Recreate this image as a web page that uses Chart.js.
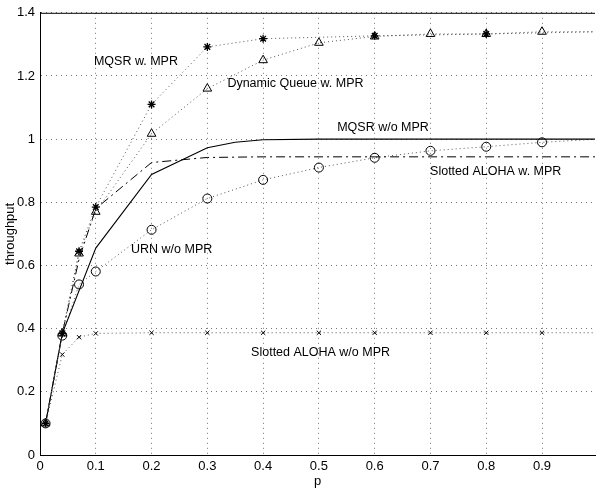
<!DOCTYPE html>
<html>
<head>
<meta charset="utf-8">
<script src="https://cdn.jsdelivr.net/npm/chart.js@4/dist/chart.umd.min.js"></script>
<style>
  html, body { margin: 0; padding: 0; background: #fff; }
</style>
</head>
<body>
<canvas id="chart" width="601" height="488"></canvas>
<script>
const xTicks = [0, 0.1, 0.2, 0.3, 0.4, 0.5, 0.6, 0.7, 0.8, 0.9];
const yTicks = [0, 0.2, 0.4, 0.6, 0.8, 1, 1.2, 1.4];

// MQSR w. MPR (asterisks)
const pMqsrMpr = [0.01, 0.04, 0.07, 0.1, 0.2, 0.3, 0.4, 0.6, 0.8, 1.0];
const mqsrMpr = [0.1, 0.385, 0.645, 0.785, 1.11, 1.292, 1.318, 1.327, 1.333, 1.34];

// Dynamic Queue w. MPR (triangles)
const pQueue = [0.01, 0.04, 0.07, 0.1, 0.2, 0.3, 0.4, 0.5, 0.6, 0.7, 0.8, 0.9, 1.0];
const queueMpr = [0.1, 0.385, 0.638, 0.77, 1.017, 1.16, 1.25, 1.305, 1.325, 1.333, 1.333, 1.34, 1.34];

// MQSR w/o MPR (solid)
const pMqsr = [0.01, 0.04, 0.1, 0.2, 0.3, 0.35, 0.4, 0.5, 0.6, 0.7, 0.8, 0.9, 1.0];
const mqsrNoMpr = [0.1, 0.385, 0.655, 0.888, 0.973, 0.99, 0.998, 1.0, 1.0, 1.0, 1.0, 1.0, 1.0];

// Slotted ALOHA w. MPR (dash-dot)
const pAlohaMpr = [0.01, 0.04, 0.07, 0.1, 0.2, 0.3, 0.4, 0.5, 0.6, 0.7, 0.8, 0.9, 1.0];
const alohaMpr = [0.1, 0.385, 0.62, 0.78, 0.926, 0.942, 0.944, 0.944, 0.944, 0.944, 0.944, 0.944, 0.944];

// URN w/o MPR (circles)
const pUrn = [0.01, 0.04, 0.07, 0.1, 0.2, 0.3, 0.4, 0.5, 0.6, 0.7, 0.8, 0.9, 1.0];
const urnNoMpr = [0.1, 0.378, 0.54, 0.581, 0.713, 0.812, 0.871, 0.91, 0.941, 0.963, 0.976, 0.99, 1.0];

// Slotted ALOHA w/o MPR (x marks)
const pAloha = [0.01, 0.04, 0.07, 0.1, 0.2, 0.3, 0.4, 0.5, 0.6, 0.7, 0.8, 0.9, 1.0];
const alohaNoMpr = [0.1, 0.318, 0.373, 0.385, 0.387, 0.387, 0.387, 0.387, 0.387, 0.387, 0.387, 0.387, 0.387];

// text notes inside the plot
const noteText = ["MQSR w. MPR", "Dynamic Queue w. MPR", "MQSR w/o MPR", "Slotted ALOHA w. MPR", "URN w/o MPR", "Slotted ALOHA w/o MPR"];
const noteP = [0.172, 0.458, 0.615, 0.817, 0.236, 0.503];
const noteY = [1.245, 1.175, 1.036, 0.897, 0.651, 0.325];

const FONT = "'Liberation Sans', Arial, Helvetica, sans-serif";

function pts(xs, ys) {
  return xs.map((x, i) => ({ x: x, y: ys[i] }));
}

function markerSize(r) {
  return (ctx) => (ctx.raw && ctx.raw.x > 0.95 ? 0 : r);
}

const notes = {
  id: "notes",
  afterDatasetsDraw(c) {
    const { ctx, chartArea, scales } = c;
    ctx.save();
    ctx.strokeStyle = "#000";
    ctx.lineWidth = 1;
    ctx.beginPath();
    ctx.moveTo(chartArea.left, chartArea.top + 0.5);
    ctx.lineTo(chartArea.right, chartArea.top + 0.5);
    ctx.stroke();
    ctx.font = "12.5px " + FONT;
    ctx.fillStyle = "#000";
    ctx.textAlign = "center";
    ctx.textBaseline = "middle";
    noteText.forEach((t, i) => {
      ctx.fillText(t, scales.x.getPixelForValue(noteP[i]), scales.y.getPixelForValue(noteY[i]));
    });
    ctx.restore();
  },
};

const dotted = [1, 3];

new Chart(document.getElementById("chart").getContext("2d"), {
  type: "scatter",
  plugins: [notes],
  options: {
    responsive: false,
    animation: false,
    layout: { padding: { top: 12, right: 1, left: 0, bottom: 0 } },
    plugins: { legend: { display: false }, tooltip: { enabled: false } },
    scales: {
      x: {
        type: "linear",
        min: 0,
        max: 0.995,
        afterBuildTicks: (s) => { s.ticks = xTicks.map((v) => ({ value: v })); },
        afterFit: (s) => { s.height = 33; },
        ticks: { color: "#000", font: { family: FONT, size: 13 }, padding: 4, callback: (v) => String(v) },
        grid: { color: "#777", lineWidth: 1, drawTicks: false },
        border: { display: true, color: "#000", width: 1, dash: [1, 4] },
        title: { display: true, text: "p", color: "#000", font: { family: FONT, size: 13 }, padding: { top: 0, bottom: -1 } },
      },
      y: {
        type: "linear",
        min: 0,
        max: 1.4,
        afterBuildTicks: (s) => { s.ticks = yTicks.map((v) => ({ value: v })); },
        afterFit: (s) => { s.width = 40; },
        ticks: { color: "#000", font: { family: FONT, size: 13 }, padding: 5, callback: (v) => String(v) },
        grid: { color: "#777", lineWidth: 1, drawTicks: false },
        border: { display: true, color: "#000", width: 1, dash: [1, 4] },
        title: { display: true, text: "throughput", color: "#000", font: { family: FONT, size: 13 }, padding: { top: 3, bottom: 0 } },
      },
    },
  },
  data: {
    datasets: [
      {
        label: "MQSR w. MPR",
        data: pts(pMqsrMpr, mqsrMpr),
        showLine: true,
        borderColor: "#555",
        borderWidth: 1,
        borderDash: dotted,
        pointStyle: "star",
        pointRadius: markerSize(4),
        pointBorderColor: "#000",
        pointBorderWidth: 1.3,
      },
      {
        label: "Dynamic Queue w. MPR",
        data: pts(pQueue, queueMpr),
        showLine: true,
        borderColor: "#555",
        borderWidth: 1,
        borderDash: dotted,
        pointStyle: "triangle",
        pointRadius: markerSize(5),
        pointBackgroundColor: "rgba(255,255,255,0)",
        pointBorderColor: "#000",
        pointBorderWidth: 1,
      },
      {
        label: "MQSR w/o MPR",
        data: pts(pMqsr, mqsrNoMpr),
        showLine: true,
        borderColor: "#000",
        borderWidth: 1.1,
        pointRadius: 0,
      },
      {
        label: "Slotted ALOHA w. MPR",
        data: pts(pAlohaMpr, alohaMpr),
        showLine: true,
        borderColor: "#000",
        borderWidth: 1,
        borderDash: [9, 4, 2, 4],
        pointRadius: 0,
      },
      {
        label: "URN w/o MPR",
        data: pts(pUrn, urnNoMpr),
        showLine: true,
        borderColor: "#555",
        borderWidth: 1,
        borderDash: dotted,
        pointStyle: "circle",
        pointRadius: markerSize(4.5),
        pointBackgroundColor: "rgba(255,255,255,0)",
        pointBorderColor: "#000",
        pointBorderWidth: 1,
      },
      {
        label: "Slotted ALOHA w/o MPR",
        data: pts(pAloha, alohaNoMpr),
        showLine: true,
        borderColor: "#555",
        borderWidth: 1,
        borderDash: dotted,
        pointStyle: "crossRot",
        pointRadius: markerSize(3),
        pointBorderColor: "#000",
        pointBorderWidth: 1,
      },
    ],
  },
});
</script>
</body>
</html>
